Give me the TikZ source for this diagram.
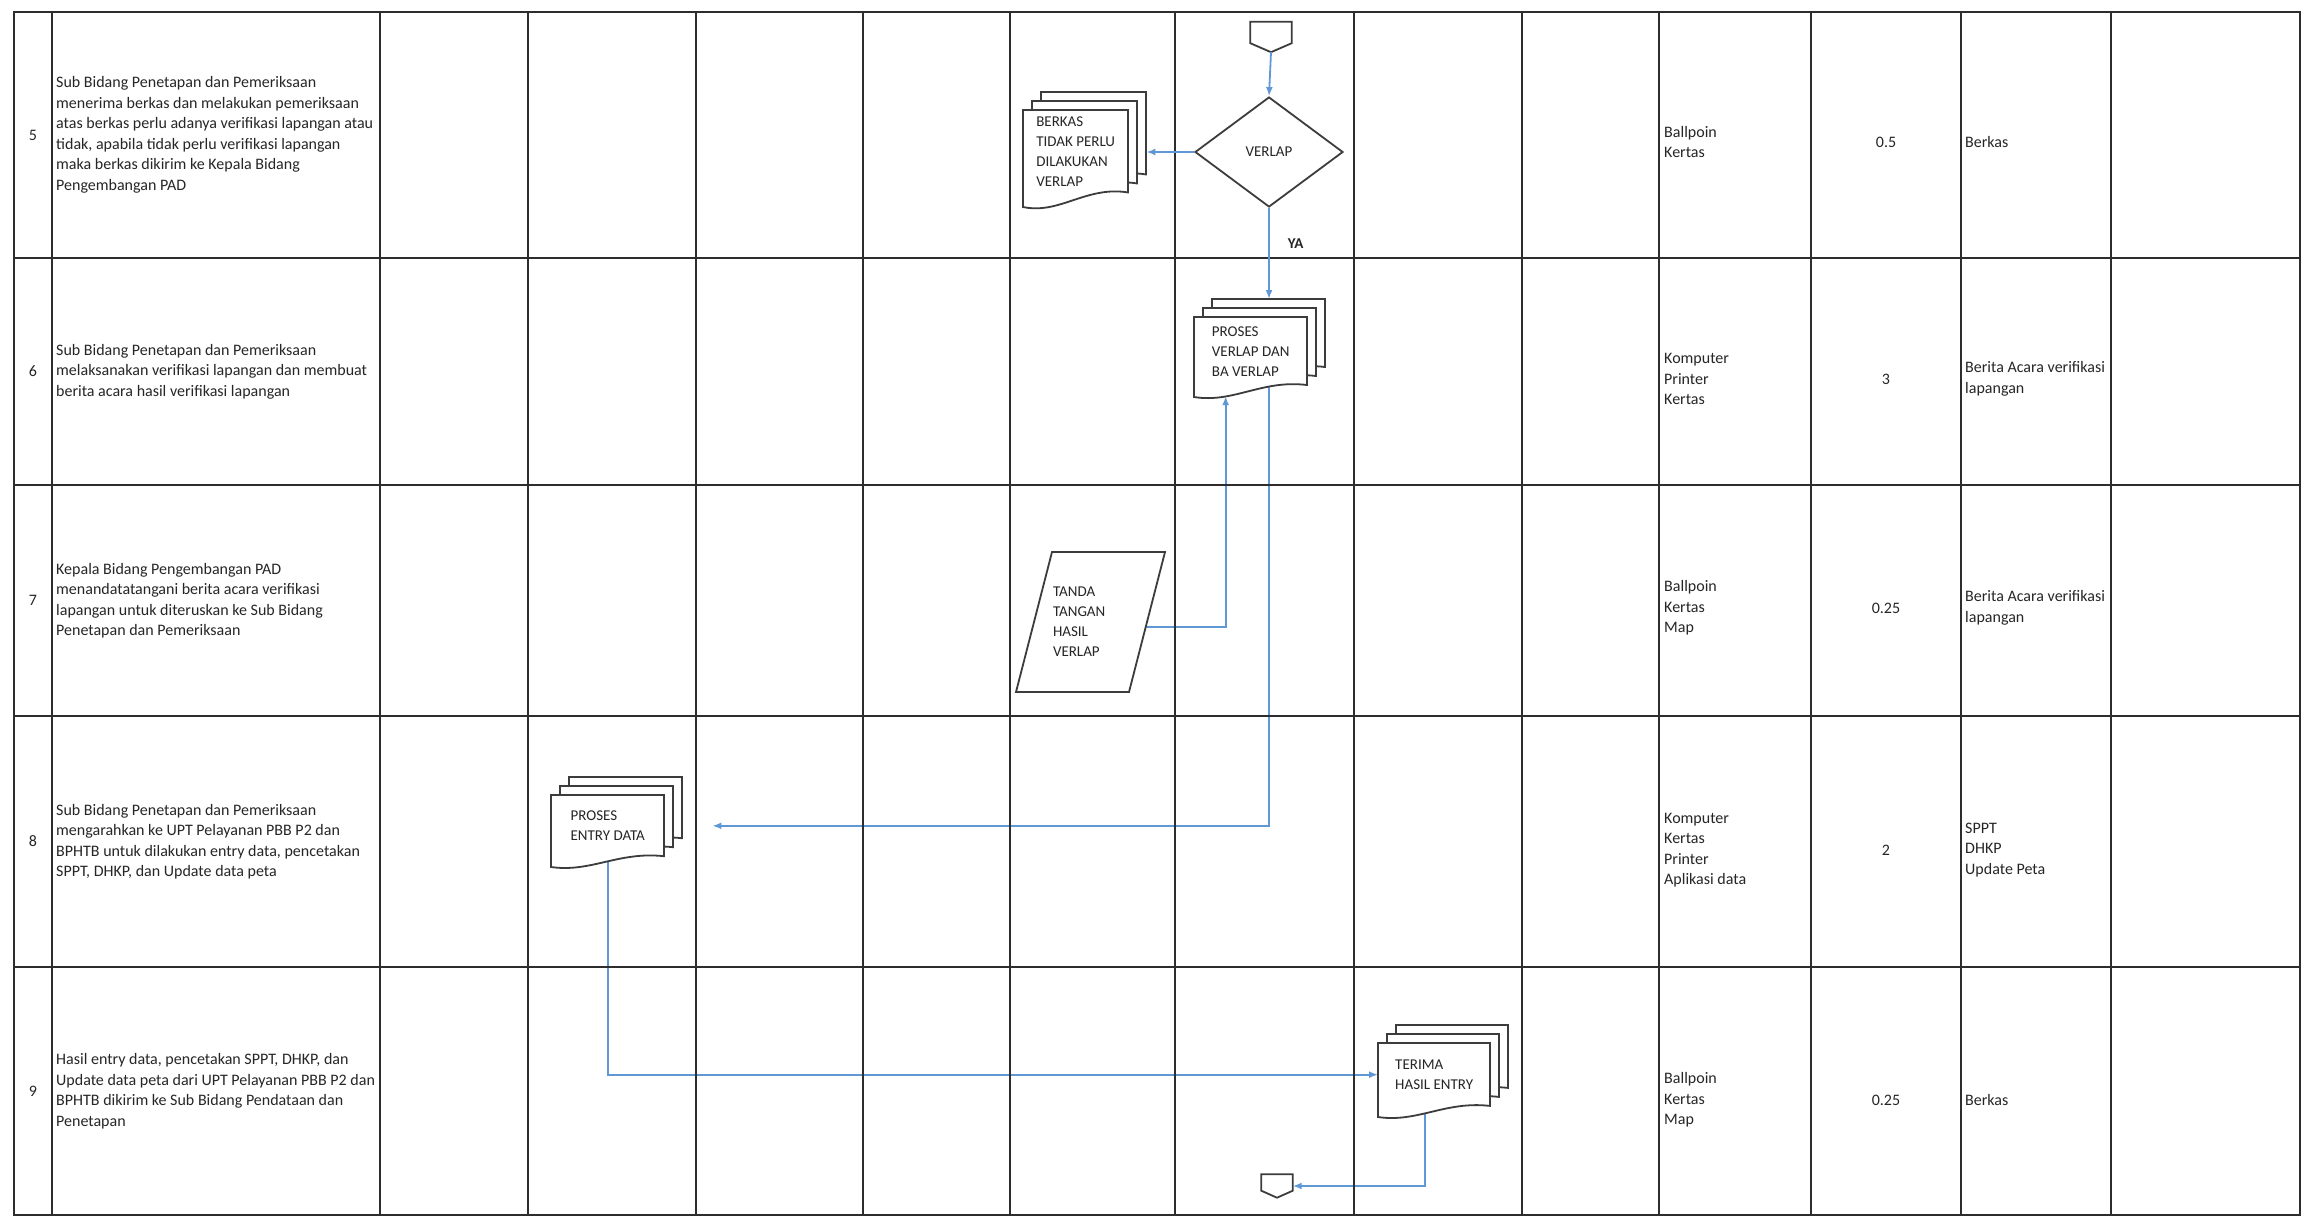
\documentclass[tikz,border=0pt]{standalone}
\usepackage{fontspec}
\setmainfont{Carlito}
\usetikzlibrary{arrows.meta, positioning, calc, shapes.geometric}
\pgfdeclarelayer{back}
\pgfsetlayers{back,main}

\definecolor{flowblue}{RGB}{96,152,214}
\definecolor{gridgray}{RGB}{45,45,45}
\definecolor{inkgray}{RGB}{60,60,60}

\tikzset{
  gridline/.style={draw=gridgray, line width=2.4pt},
  shapeline/.style={draw=inkgray, line width=1.8pt},
  flow/.style={draw=flowblue, line width=1.8pt, -{Latex[length=9pt,width=7pt]}},
  celltext/.style={font=\fontsize{16}{20.5}\selectfont, text=black!85, inner sep=0pt, align=left},
  shapetext/.style={celltext, font=\fontsize{15}{20}\selectfont},
  doctext/.style={shapetext, anchor=north west},
  decision/.style={shapeline, diamond, minimum width=148pt, minimum height=110pt,
    shapetext, align=center},
  yalabel/.style={celltext, font=\fontsize{15}{20}\selectfont\bfseries},
  connector/.style={inner sep=0pt},
}

% stacked documents: name, x, y (top left), width, height, text
\newcommand{\docstack}[6]{%
  \foreach \k in {2,1,0}
    \draw[shapeline, fill=white, xshift=\k*9pt, yshift=\k*9pt]
      (#2,#3) -- ({#2+#4},#3) -- ({#2+#4},{#3+0.85*#5})
      .. controls ({#2+0.6*#4},{#3+0.78*#5}) and ({#2+0.35*#4},{#3+1.08*#5})
      .. (#2,{#3+#5}) -- cycle;
  \node[doctext, minimum width=#4pt, minimum height=0.85*#5pt] (#1) at (#2,#3) {#6};
  \coordinate (#1 back) at ($(#1.east)+(18,0)$);
  \coordinate (#1 top) at ($(#1.north)+(18,-18)$);
  \coordinate (#1 foot) at ({#2+0.28*#4},{#3+0.99*#5});
}

% off-page connector: name, x, y, width, height, tip
\newcommand{\offpage}[6]{%
  \node[connector, minimum width=#4pt, minimum height=#5pt] (#1) at (#2,#3) {};
  \draw[shapeline, fill=white] (#1.north west) -- (#1.north east)
    -- ($(#1.south east)+(0,-#6)$) -- (#1.south) -- ($(#1.south west)+(0,-#6)$) -- cycle;
}

\begin{document}
\begin{tikzpicture}[x=1pt, y=-1pt]
  \useasboundingbox (0,0) rectangle (2312,1219);
  \begin{pgfonlayer}{back}
    \fill[white] (0,0) rectangle (2312,1219);
  \end{pgfonlayer}

  % table
  \draw[gridline] (14,12) rectangle (2300,1215);
  \foreach \x in {52,380,528,696,863,1010,1175,1354,1522,1659,1811,1961,2111}
    \draw[gridline] (\x,12) -- (\x,1215);
  \foreach \y in {258,485,716,967}
    \draw[gridline] (14,\y) -- (2300,\y);

  \foreach \n/\yc in {5/135,6/371.5,7/600.5,8/841.5,9/1091}
    \node[celltext] (no\n) at (33,\yc) {\n};

  \node[celltext, anchor=west] (desc5) at (56,135)
    {Sub Bidang Penetapan dan Pemeriksaan\\menerima berkas dan melakukan pemeriksaan\\atas berkas perlu adanya verifikasi lapangan atau\\tidak, apabila tidak perlu verifikasi lapangan\\maka berkas dikirim ke Kepala Bidang\\Pengembangan PAD};
  \node[celltext, anchor=west] (desc6) at (56,371.5)
    {Sub Bidang Penetapan dan Pemeriksaan\\melaksanakan verifikasi lapangan dan membuat\\berita acara hasil verifikasi lapangan};
  \node[celltext, anchor=west] (desc7) at (56,600.5)
    {Kepala Bidang Pengembangan PAD\\menandatatangani berita acara verifikasi\\lapangan untuk diteruskan ke Sub Bidang\\Penetapan dan Pemeriksaan};
  \node[celltext, anchor=west] (desc8) at (56,841.5)
    {Sub Bidang Penetapan dan Pemeriksaan\\mengarahkan ke UPT Pelayanan PBB P2 dan\\BPHTB untuk dilakukan entry data, pencetakan\\SPPT, DHKP, dan Update data peta};
  \node[celltext, anchor=west] (desc9) at (56,1091)
    {Hasil entry data, pencetakan SPPT, DHKP, dan\\Update data peta dari UPT Pelayanan PBB P2 dan\\BPHTB dikirim ke Sub Bidang Pendataan dan\\Penetapan};

  \foreach \n/\yc/\alat/\dur/\hasil in {
      5/142/{Ballpoin\\Kertas}/0.5/{Berkas},
      6/379/{Komputer\\Printer\\Kertas}/3/{Berita Acara  verifikasi\\lapangan},
      7/608/{Ballpoin\\Kertas\\Map}/0.25/{Berita Acara verifikasi\\lapangan},
      8/850/{Komputer\\Kertas\\Printer\\Aplikasi data}/2/{SPPT\\DHKP\\Update Peta},
      9/1100/{Ballpoin\\Kertas\\Map}/0.25/{Berkas}} {
    \node[celltext, anchor=west] (alat\n) at (1664,\yc) {\alat};
    \node[celltext] (dur\n) at (1886,\yc) {\dur};
    \node[celltext, anchor=west] (hasil\n) at (1965,\yc) {\hasil};
  }

  % flow
  \offpage{conTop}{1271}{37}{41}{30}{9}
  \node[decision] (verlap) at (1269,152) {VERLAP};
  \docstack{docA}{1023}{110}{105}{97}{BERKAS\\TIDAK PERLU\\DILAKUKAN\\VERLAP}
  \docstack{docB}{1194}{317}{113}{80}{PROSES\\VERLAP DAN\\BA VERLAP}
  \draw[shapeline, fill=white] (1016,692) -- (1052,552) -- (1165,552) -- (1129,692) -- cycle;
  \node[shapetext, minimum width=149pt, minimum height=140pt, text width=75pt]
    (ttd) at (1090.5,622) {TANDA\\TANGAN\\HASIL\\VERLAP};
  \docstack{docC}{551}{795}{113}{72}{PROSES\\ENTRY DATA}
  \docstack{docD}{1378}{1043}{112}{74}{TERIMA\\HASIL ENTRY}
  \offpage{conBot}{1277}{1186}{31}{23}{7}

  \draw[flow] (conTop.south) -- (verlap.north);
  \draw[flow] (verlap.west) -- (verlap.west -| docA back);
  \draw[flow] (verlap.south) -- node[yalabel, pos=0.39, right=18pt] (ya) {YA}
    (verlap.south |- docB top);
  \begin{pgfonlayer}{back}
    \draw[flow] ($(ttd.center)+(0,5)$) -| (docB foot);
    \draw[flow] ($(docB.center)+(18,0)$) |- ($(docC back)+(30,0)$);
    \draw[flow] (docC.center) |- (docD.west);
    \draw[flow] ($(docD.center)+(-9,0)$) |- (conBot.east);
  \end{pgfonlayer}
\end{tikzpicture}
\end{document}
